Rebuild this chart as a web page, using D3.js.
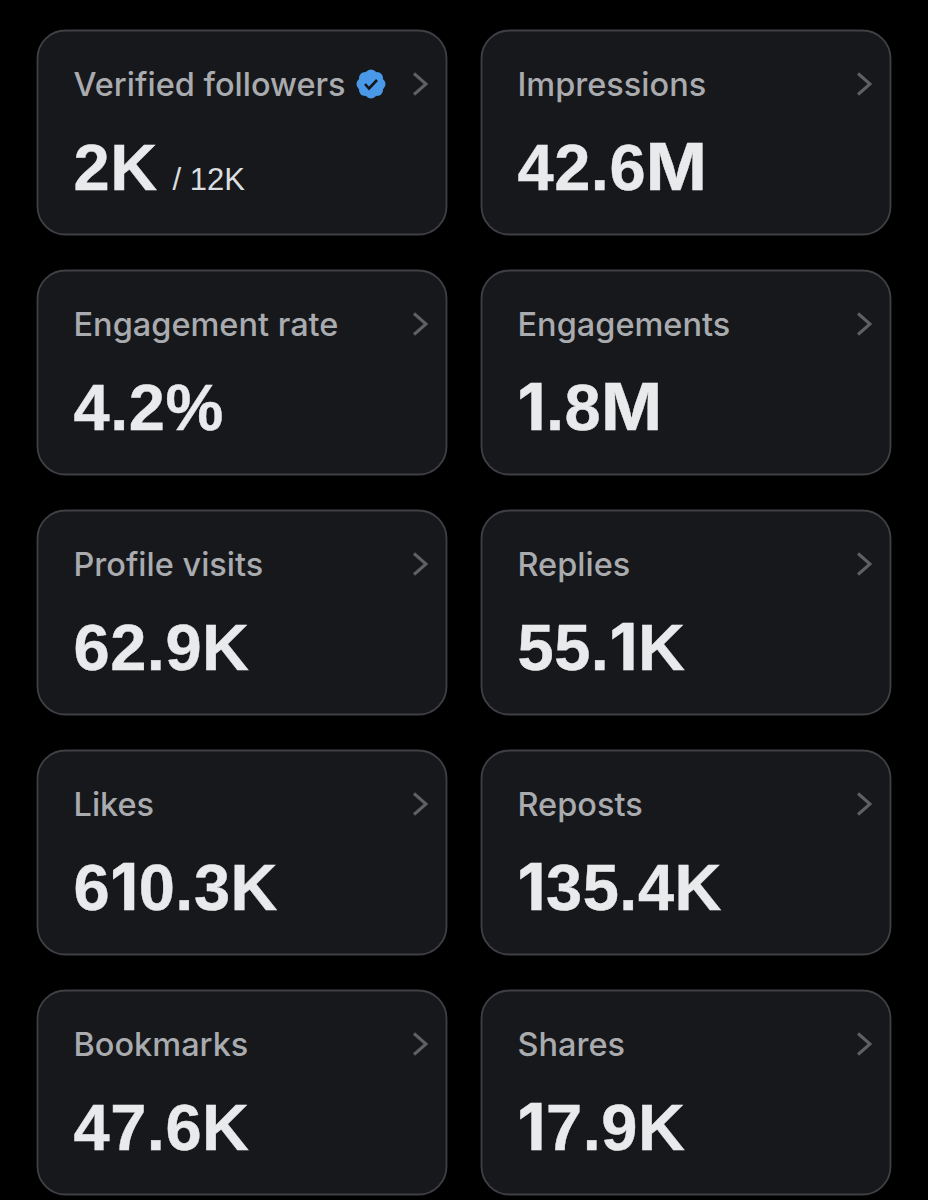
<!DOCTYPE html>
<html>
<head>
<meta charset="utf-8">
<script src="https://cdn.jsdelivr.net/npm/d3@7"></script>
<style>
  html, body { margin: 0; padding: 0; background: #000; }
  svg { display: block; }
  .label { font: 500 32.5px "Inter", "Roboto", sans-serif; fill: #a9abaf; }
  .value { font: 700 65px "Liberation Sans", Arial, sans-serif; fill: #e9eaec; stroke: #e9eaec; stroke-width: 0.4px; letter-spacing: 0.5px; }
  .value .swap { font-family: "Inter", sans-serif; }
  .sub { font: 400 31px "Liberation Sans", Arial, sans-serif; fill: #dcdddf; }
</style>
</head>
<body>
<div id="chart"></div>
<script>
const labels = ["Verified followers", "Impressions", "Engagement rate", "Engagements", "Profile visits",
  "Replies", "Likes", "Reposts", "Bookmarks", "Shares"];
const values = ["2K", "42.6M", "4.2%", "1.8M", "62.9K", "55.1K", "610.3K", "135.4K", "47.6K", "17.9K"];
const subValues = ["/ 12K", "", "", "", "", "", "", "", "", ""];

const width = 928, height = 1200;
const cardW = 409, cardH = 204;

const svg = d3.select("#chart").append("svg")
  .attr("width", width)
  .attr("height", height);

// two columns, five rows
const x = d3.scaleOrdinal().domain([0, 1]).range([37.5, 481.5]);
const y = d3.scaleLinear().domain([0, 4]).range([30.5, 990.5]);

const cards = svg.selectAll("g.card")
  .data(labels.map((label, i) => ({ label, value: values[i], sub: subValues[i], i })))
  .join("g")
    .attr("class", "card")
    .attr("transform", d => `translate(${x(d.i % 2)},${y(Math.floor(d.i / 2))})`);

cards.append("rect")
  .attr("width", cardW)
  .attr("height", cardH)
  .attr("rx", 28)
  .attr("fill", "#16181c")
  .attr("stroke", "#3e4044")
  .attr("stroke-width", 1.8);

cards.append("text")
  .attr("class", "label")
  .attr("x", 36)
  .attr("y", 65)
  .text(d => d.label);

// the reference font has a narrower 1 and a wider M than Liberation,
// Inter's versions of those two glyphs sit closer
cards.append("text")
  .attr("class", "value")
  .attr("x", 36)
  .attr("y", 159)
  .each(function(d) {
    const text = d3.select(this);
    d.value.split("").forEach(ch => {
      const t = text.append("tspan").text(ch);
      if (ch === "1" || ch === "M") t.attr("class", "swap");
    });
  });

// the little chevron on the right of every card
cards.append("path")
  .attr("d", "M376.5 43 L388.5 53.5 L376.5 64")
  .attr("fill", "none")
  .attr("stroke", "#5e6064")
  .attr("stroke-width", 3);

const first = cards.filter(d => d.sub !== "");

first.append("text")
  .attr("class", "sub")
  .attr("x", 135)
  .attr("y", 159.5)
  .text(d => d.sub);

// verified badge
const badgeCenter = [333.5, 53.5];
const badgeAngles = d3.range(0, 8).map(i => i * Math.PI / 4);
const badge = first.append("g").attr("transform", `translate(${badgeCenter})`);
badge.selectAll("circle")
  .data(badgeAngles)
  .join("circle")
    .attr("cx", a => 8.5 * Math.cos(a))
    .attr("cy", a => 8.5 * Math.sin(a))
    .attr("r", 6)
    .attr("fill", "#4a99e9");
badge.append("circle").attr("r", 10).attr("fill", "#4a99e9");
badge.append("path")
  .attr("d", "M-6 0 L-2 4.5 L6 -4")
  .attr("fill", "none")
  .attr("stroke", "#14171c")
  .attr("stroke-width", 2.6);
</script>
</body>
</html>
